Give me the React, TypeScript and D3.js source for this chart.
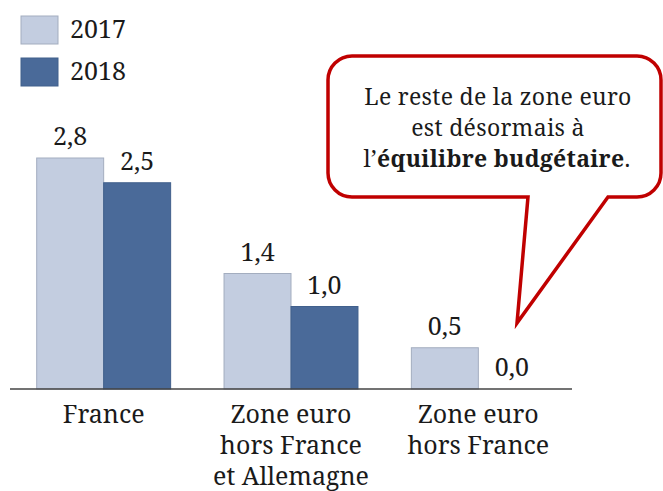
import * as d3 from 'd3'

const W = 663, H = 491
const FONT = "'Noto Serif'"
const TXT = { fontFamily: FONT }

const years = ['2017', '2018']
const categories = ['France', 'Zone euro hors France et Allemagne', 'Zone euro hors France']
const categoryLines = [['France'], ['Zone euro', 'hors France', 'et Allemagne'], ['Zone euro', 'hors France']]
const values2017 = [2.8, 1.4, 0.5]
const values2018 = [2.5, 1.0, 0.0]
const calloutLines = ['Le reste de la zone euro', 'est désormais à']

const FILL = { '2017': '#c3cde0', '2018': '#4a6a99' }
const STROKE = { '2017': '#a3adbf', '2018': '#41608c' }

const fmt = (v: number) => d3.format('.1f')(v).replace('.', ',')

export default function App() {
  const x0 = d3.scaleBand<string>().domain(categories).range([10, 572]).paddingInner(0.285).paddingOuter(0.1425)
  const x1 = d3.scaleBand<string>().domain(years).range([0, x0.bandwidth()])
  const y = d3.scaleLinear().domain([0, 2.8]).range([389, 158])

  const rows = categories.map((c, i) => ({ c, vals: [values2017[i], values2018[i]] }))

  // callout bubble (annotation geometry)
  const bx0 = 328, by0 = 56, bx1 = 661, by1 = 197, r = 24
  const tail = { left: 528, right: 608, tipX: 517, tipY: 323 }
  const bubble = `M${bx0 + r},${by0} H${bx1 - r} A${r},${r} 0 0 1 ${bx1},${by0 + r} V${by1 - r} A${r},${r} 0 0 1 ${bx1 - r},${by1}
    H${tail.right} L${tail.tipX},${tail.tipY} L${tail.left},${by1} H${bx0 + r} A${r},${r} 0 0 1 ${bx0},${by1 - r} V${by0 + r} A${r},${r} 0 0 1 ${bx0 + r},${by0} Z`

  return (
    <svg width={W} height={H} viewBox={`0 0 ${W} ${H}`}
      style={{ position: 'absolute', left: 0, top: 0, background: '#fff' }}>
      {/* legend */}
      {years.map((yr, i) => (
        <g key={yr} transform={`translate(21,${16 + i * 42})`}>
          <rect width={37} height={28} fill={FILL[yr]} stroke={STROKE[yr]} strokeWidth={1} />
          <text x={49} y={22} fontSize={25} fill="#1a1a1a" style={TXT}>{yr}</text>
        </g>
      ))}

      {/* bars */}
      {rows.map(row => (
        <g key={row.c} transform={`translate(${x0(row.c)},0)`}>
          {row.vals.map((v, j) => {
            const yr = years[j]
            return (
              <g key={yr}>
                {v > 0 && (
                  <rect x={x1(yr)} y={y(v)} width={x1.bandwidth()} height={y(0) - y(v)}
                    fill={FILL[yr]} stroke={STROKE[yr]} strokeWidth={1} />
                )}
                <text x={x1(yr)! + x1.bandwidth() / 2} y={y(v) - 13} textAnchor="middle" fontSize={25}
                  fill="#1a1a1a" style={TXT}>{fmt(v)}</text>
              </g>
            )
          })}
        </g>
      ))}

      {/* axis line */}
      <line x1={10} x2={572} y1={y(0)} y2={y(0)} stroke="#444" strokeWidth={1.5} />

      {/* category labels */}
      {categories.map((c, i) => (
        <text key={c} x={x0(c)! + x0.bandwidth() / 2} textAnchor="middle" fontSize={25} fill="#1a1a1a" style={TXT}>
          {categoryLines[i].map((l, k) => (
            <tspan key={k} x={x0(c)! + x0.bandwidth() / 2} y={423 + k * 31}>{l}</tspan>
          ))}
        </text>
      ))}

      {/* callout */}
      <path d={bubble} fill="#fff" stroke="#c00000" strokeWidth={3.5} strokeLinejoin="miter" />
      <text x={498} textAnchor="middle" fontSize={23} letterSpacing={0.3} fill="#1a1a1a" style={TXT}>
        {calloutLines.map((l, k) => (
          <tspan key={k} x={498} y={105 + k * 31}>{l}</tspan>
        ))}
        <tspan x={497} y={167}>l’<tspan fontWeight="bold">équilibre budgétaire</tspan>.</tspan>
      </text>
    </svg>
  )
}
